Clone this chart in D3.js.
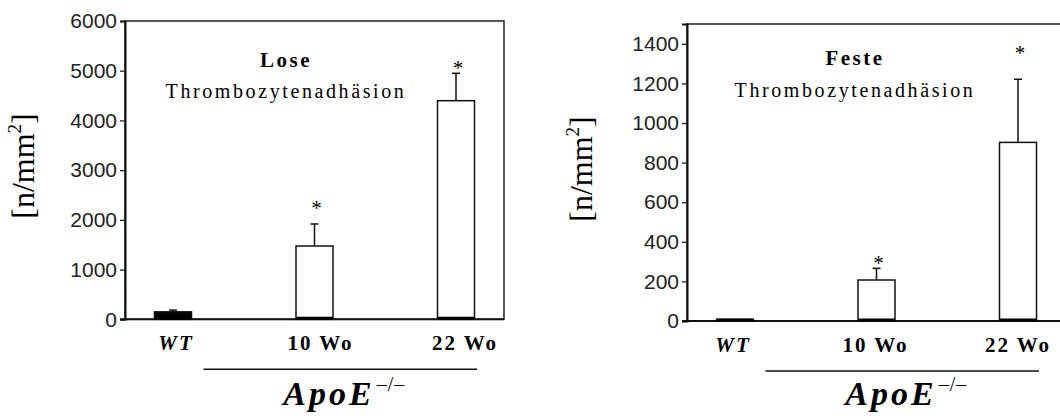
<!DOCTYPE html>
<html>
<head>
<meta charset="utf-8">
<script src="https://cdn.jsdelivr.net/npm/d3@7"></script>
<style>
  body { margin: 0; background: #fff; }
  svg { display: block; }
</style>
</head>
<body>
<svg id="chart" width="1060" height="416"></svg>
<script>
// values
var categories = ["WT", "10 Wo", "22 Wo"];

var loseMeans = [150, 1474, 4397];
var loseErrors = [35, 443, 551];
var loseStars = [null, 2300, 5120];   // height of the "*" marks
var loseTicks = [0, 1000, 2000, 3000, 4000, 5000, 6000];

var festeMeans = [8, 207, 902];
var festeErrors = [0, 59, 319];
var festeStars = [null, 308, 1369];
var festeTicks = [0, 200, 400, 600, 800, 1000, 1200, 1400];

var loseTitle = ["Lose", "Thrombozytenadhäsion"];
var festeTitle = ["Feste", "Thrombozytenadhäsion"];
var groupName = "ApoE";
var groupSup = "–/–";

var serif = "Liberation Serif";
var sans = "Liberation Sans";

var svg = d3.select("#chart");

var charts = [
    { left: 125, top: 21, width: 379, height: 298.3, max: 6000, ticks: loseTicks,
      means: loseMeans, errors: loseErrors, stars: loseStars, title: loseTitle,
      titleX: 161, titleY: [46, 77], labelRange: [51, 340], yLabelX: 33.6, yLabelY: 166 },
    { left: 687, top: 24, width: 379, height: 297, max: 1500, ticks: festeTicks,
      means: festeMeans, errors: festeErrors, stars: festeStars, title: festeTitle,
      titleX: 168, titleY: [41, 73], labelRange: [46, 331], yLabelX: 591.6, yLabelY: 169 }
];

charts.forEach(drawChart);

function txt(sel, family, size) {
    return sel.style("font-family", family).style("font-size", size + "px");
}

function drawChart(c) {
    var rows = categories.map(function (cat, i) {
        return { cat: cat, mean: c.means[i], err: c.errors[i], star: c.stars[i], i: i };
    });

    var y = d3.scaleLinear().domain([0, c.max]).range([c.height, 0]);
    var x = d3.scalePoint().domain(categories).range([48, 331]);
    var xl = d3.scalePoint().domain(categories).range(c.labelRange);
    var barW = 37;

    var g = svg.append("g").attr("transform", "translate(" + c.left + "," + c.top + ")");

    // frame
    g.append("rect")
        .attr("width", c.width).attr("height", c.height)
        .attr("fill", "none").attr("stroke", "#222").attr("stroke-width", 1.5);

    // y axis
    var axis = g.append("g")
        .call(d3.axisLeft(y).tickValues(c.ticks).tickSize(5).tickPadding(3).tickFormat(d3.format("d")));
    axis.select(".domain").attr("stroke", "#111").attr("stroke-width", 2);
    axis.selectAll(".tick line").attr("stroke", "#222").attr("stroke-width", 1.3);
    txt(axis.selectAll(".tick text"), sans, 21).attr("fill", "#222");

    // bottom line
    g.append("line")
        .attr("x1", -5).attr("x2", c.width)
        .attr("y1", c.height).attr("y2", c.height)
        .attr("stroke", "#111").attr("stroke-width", 2);

    // error bars (upper only)
    var eb = g.selectAll(".err").data(rows.filter(function (d) { return d.err > 0; }))
        .enter().append("g").attr("class", "err")
        .attr("stroke", "#111").attr("stroke-width", 1.5);
    eb.append("line")
        .attr("x1", function (d) { return x(d.cat); })
        .attr("x2", function (d) { return x(d.cat); })
        .attr("y1", function (d) { return y(d.mean); })
        .attr("y2", function (d) { return y(d.mean + d.err); });
    eb.append("line")
        .attr("x1", function (d) { return x(d.cat) - 4; })
        .attr("x2", function (d) { return x(d.cat) + 4; })
        .attr("y1", function (d) { return y(d.mean + d.err); })
        .attr("y2", function (d) { return y(d.mean + d.err); });

    // bars
    g.selectAll(".bar").data(rows)
        .enter().append("rect").attr("class", "bar")
        .attr("x", function (d) { return x(d.cat) - barW / 2; })
        .attr("width", barW)
        .attr("y", function (d) { return y(d.mean); })
        .attr("height", function (d) { return c.height - y(d.mean); })
        .attr("fill", function (d) { return d.i === 0 ? "#000" : "#fff"; })
        .attr("stroke", "#111").attr("stroke-width", 1.5);

    // thick bar bottoms
    g.selectAll(".base").data(rows)
        .enter().append("line").attr("class", "base")
        .attr("x1", function (d) { return x(d.cat) - barW / 2; })
        .attr("x2", function (d) { return x(d.cat) + barW / 2; })
        .attr("y1", c.height - 1).attr("y2", c.height - 1)
        .attr("stroke", "#000").attr("stroke-width", 3);

    // significance stars
    txt(g.selectAll(".star").data(rows.filter(function (d) { return d.star != null; }))
        .enter().append("text").attr("class", "star"), serif, 21)
        .attr("x", function (d) { return x(d.cat) + 2; })
        .attr("y", function (d) { return y(d.star) + 10; })
        .attr("text-anchor", "middle")
        .text("*");

    // titles
    txt(g.append("text"), serif, 21)
        .attr("x", c.titleX).attr("y", c.titleY[0])
        .attr("text-anchor", "middle")
        .style("font-weight", "bold")
        .style("letter-spacing", "2.5px")
        .text(c.title[0]);
    txt(g.append("text"), serif, 20)
        .attr("x", c.titleX).attr("y", c.titleY[1])
        .attr("text-anchor", "middle")
        .style("letter-spacing", "2.6px")
        .text(c.title[1]);

    // category labels
    txt(g.selectAll(".cat").data(rows)
        .enter().append("text").attr("class", "cat"), serif, 21)
        .attr("x", function (d) { return xl(d.cat); })
        .attr("y", c.height + 31)
        .attr("text-anchor", "middle")
        .style("font-weight", "bold")
        .style("font-style", function (d) { return d.i === 0 ? "italic" : "normal"; })
        .style("letter-spacing", "2px")
        .text(function (d) { return d.cat; });

    // ApoE group line and label
    var x0 = x(categories[1]) - 111, x1 = x(categories[2]) + 21;
    g.append("line")
        .attr("x1", x0).attr("x2", x1)
        .attr("y1", c.height + 50).attr("y2", c.height + 50)
        .attr("stroke", "#111").attr("stroke-width", 1.5);
    var ap = txt(g.append("text"), serif, 34)
        .attr("x", (x0 + x1) / 2 + 4).attr("y", 405 - c.top)
        .attr("text-anchor", "middle");
    ap.append("tspan")
        .style("font-weight", "bold").style("font-style", "italic")
        .style("letter-spacing", "3px")
        .text(groupName);
    ap.append("tspan")
        .attr("dx", 2).attr("dy", -14)
        .style("font-size", "20px").style("letter-spacing", "1px")
        .text(groupSup);

    // y axis title
    var yl = txt(svg.append("text"), serif, 32)
        .attr("transform", "translate(" + c.yLabelX + "," + c.yLabelY + ") rotate(-90)")
        .attr("text-anchor", "middle");
    yl.append("tspan").text("[n/mm");
    yl.append("tspan").style("font-size", "19px").attr("dy", -13).text("2");
    yl.append("tspan").attr("dy", 13).text("]");
}
</script>
</body>
</html>
